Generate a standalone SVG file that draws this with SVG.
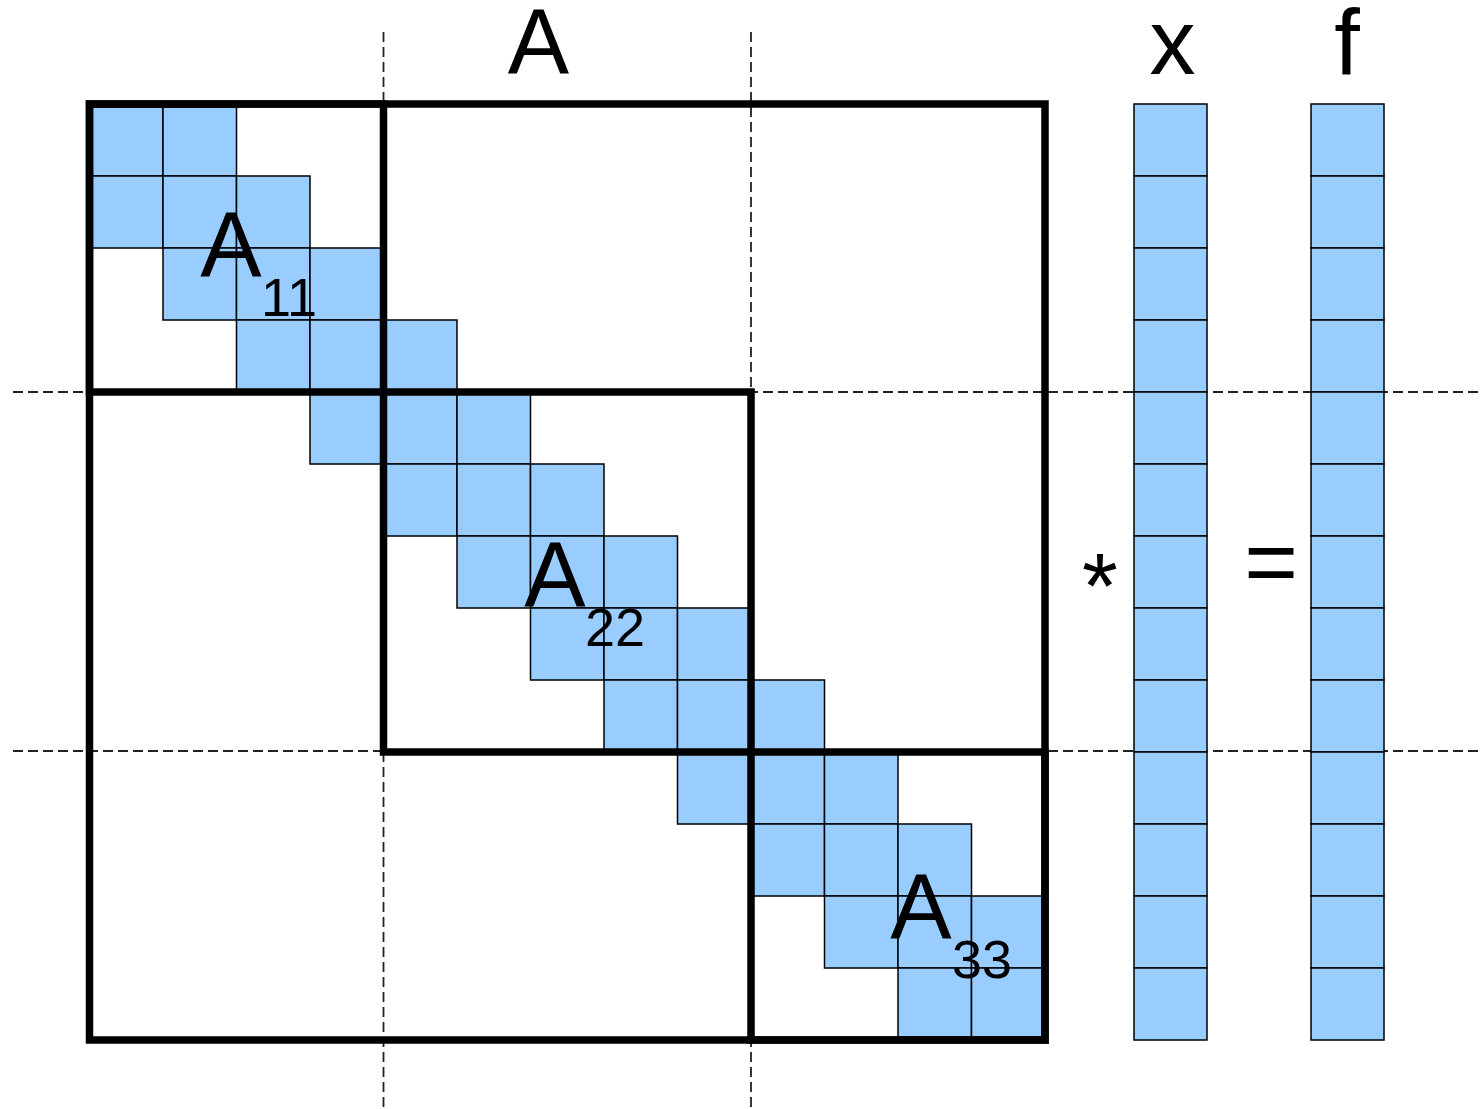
<svg xmlns="http://www.w3.org/2000/svg" width="1481" height="1109" viewBox="0 0 1481 1109">
<style>
.dash{stroke:#222;stroke-width:1.8;stroke-dasharray:10 5;fill:none}
.c{fill:#99ccff;stroke:#000;stroke-width:1.5}
.thick{fill:none;stroke:#000;stroke-width:7.5;stroke-linejoin:miter}
.t{font-family:"Liberation Sans",Arial,sans-serif;fill:#000}
.big{font-size:92px}
.sub{font-size:54px}
</style>
<rect width="1481" height="1109" fill="#fff"/>
<g id="connectors">
<line class="dash" x1="383.5" y1="32" x2="383.5" y2="1109"/>
<line class="dash" x1="751" y1="32" x2="751" y2="1109"/>
<line class="dash" x1="13" y1="392" x2="1481" y2="392"/>
<line class="dash" x1="13" y1="751" x2="1481" y2="751"/>
</g>
<g id="band">
<rect class="c" x="89.5" y="104" width="73.5" height="72"/><rect class="c" x="163" y="104" width="73.5" height="72"/>
<rect class="c" x="89.5" y="176" width="73.5" height="72"/><rect class="c" x="163" y="176" width="73.5" height="72"/><rect class="c" x="236.5" y="176" width="73.5" height="72"/>
<rect class="c" x="163" y="248" width="73.5" height="72"/><rect class="c" x="236.5" y="248" width="73.5" height="72"/><rect class="c" x="310" y="248" width="73.5" height="72"/>
<rect class="c" x="236.5" y="320" width="73.5" height="72"/><rect class="c" x="310" y="320" width="73.5" height="72"/><rect class="c" x="383.5" y="320" width="73.5" height="72"/>
<rect class="c" x="310" y="392" width="73.5" height="72"/><rect class="c" x="383.5" y="392" width="73.5" height="72"/><rect class="c" x="457" y="392" width="73.5" height="72"/>
<rect class="c" x="383.5" y="464" width="73.5" height="72"/><rect class="c" x="457" y="464" width="73.5" height="72"/><rect class="c" x="530.5" y="464" width="73.5" height="72"/>
<rect class="c" x="457" y="536" width="73.5" height="72"/><rect class="c" x="530.5" y="536" width="73.5" height="72"/><rect class="c" x="604" y="536" width="73.5" height="72"/>
<rect class="c" x="530.5" y="608" width="73.5" height="72"/><rect class="c" x="604" y="608" width="73.5" height="72"/><rect class="c" x="677.5" y="608" width="73.5" height="72"/>
<rect class="c" x="604" y="680" width="73.5" height="72"/><rect class="c" x="677.5" y="680" width="73.5" height="72"/><rect class="c" x="751" y="680" width="73.5" height="72"/>
<rect class="c" x="677.5" y="752" width="73.5" height="72"/><rect class="c" x="751" y="752" width="73.5" height="72"/><rect class="c" x="824.5" y="752" width="73.5" height="72"/>
<rect class="c" x="751" y="824" width="73.5" height="72"/><rect class="c" x="824.5" y="824" width="73.5" height="72"/><rect class="c" x="898" y="824" width="73.5" height="72"/>
<rect class="c" x="824.5" y="896" width="73.5" height="72"/><rect class="c" x="898" y="896" width="73.5" height="72"/><rect class="c" x="971.5" y="896" width="73.5" height="72"/>
<rect class="c" x="898" y="968" width="73.5" height="72"/><rect class="c" x="971.5" y="968" width="73.5" height="72"/>
</g>
<g id="blocks">
<rect class="thick" x="89.5" y="104" width="955.5" height="936"/>
<rect id="A11" class="thick" x="89.5" y="104" width="294" height="288"/>
<rect id="A22" class="thick" x="383.5" y="392" width="367.5" height="360"/>
<rect id="A33" class="thick" x="751" y="752" width="294" height="288"/>
</g>
<g id="vector-x">
<rect class="c" x="1134" y="104" width="73" height="72"/><rect class="c" x="1134" y="176" width="73" height="72"/><rect class="c" x="1134" y="248" width="73" height="72"/><rect class="c" x="1134" y="320" width="73" height="72"/><rect class="c" x="1134" y="392" width="73" height="72"/><rect class="c" x="1134" y="464" width="73" height="72"/><rect class="c" x="1134" y="536" width="73" height="72"/><rect class="c" x="1134" y="608" width="73" height="72"/><rect class="c" x="1134" y="680" width="73" height="72"/><rect class="c" x="1134" y="752" width="73" height="72"/><rect class="c" x="1134" y="824" width="73" height="72"/><rect class="c" x="1134" y="896" width="73" height="72"/><rect class="c" x="1134" y="968" width="73" height="72"/>
</g>
<g id="vector-f">
<rect class="c" x="1311" y="104" width="73" height="72"/><rect class="c" x="1311" y="176" width="73" height="72"/><rect class="c" x="1311" y="248" width="73" height="72"/><rect class="c" x="1311" y="320" width="73" height="72"/><rect class="c" x="1311" y="392" width="73" height="72"/><rect class="c" x="1311" y="464" width="73" height="72"/><rect class="c" x="1311" y="536" width="73" height="72"/><rect class="c" x="1311" y="608" width="73" height="72"/><rect class="c" x="1311" y="680" width="73" height="72"/><rect class="c" x="1311" y="752" width="73" height="72"/><rect class="c" x="1311" y="824" width="73" height="72"/><rect class="c" x="1311" y="896" width="73" height="72"/><rect class="c" x="1311" y="968" width="73" height="72"/>
</g>
<g id="labels">
<text class="t big" x="538.5" y="74" text-anchor="middle">A</text>
<text class="t big" x="1172.5" y="74" text-anchor="middle">x</text>
<text class="t big" x="1347" y="74" text-anchor="middle">f</text>
<text class="t big" x="1100" y="618" text-anchor="middle">*</text>
<text class="t big" x="1271" y="594" text-anchor="middle">=</text>
<text class="t big" x="231" y="277" text-anchor="middle">A</text>
<text class="t sub" x="261" y="316">11</text>
<text class="t big" x="555" y="607" text-anchor="middle">A</text>
<text class="t sub" x="585" y="646">22</text>
<text class="t big" x="921" y="939" text-anchor="middle">A</text>
<text class="t sub" x="952" y="978">33</text>
</g>
</svg>
